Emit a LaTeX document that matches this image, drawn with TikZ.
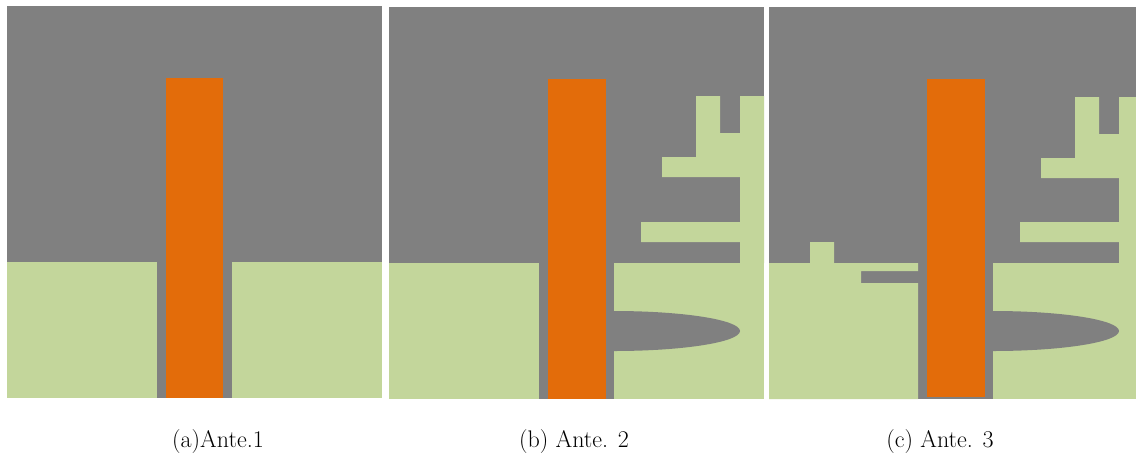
\documentclass[tikz,border=0pt]{standalone}
\definecolor{bg}{HTML}{808080}
\definecolor{soil}{HTML}{C3D69B}
\definecolor{pile}{HTML}{E36C0A}
\tikzset{
  lbl/.style={font=\fontsize{24}{28}\selectfont, inner sep=0pt},
}
\begin{document}
\begin{tikzpicture}[x=1pt,y=-1pt]
\useasboundingbox (0,0) rectangle (1136,464);
\fill[white] (0,0) rectangle (1136,464);
% ---------- panel (a)
\fill[bg] (7,6) rectangle (382,398);
\fill[soil] (7,262) rectangle (157,398);
\fill[soil] (232,262) rectangle (382,398);
\fill[pile] (166,78) rectangle (223,398);
% ---------- panel (b)
\fill[bg] (389,7) rectangle (764,399);
\fill[soil] (389,263) rectangle (539,399);
\fill[soil] (614,263) rectangle (764,399);
\begin{scope}
  \clip (614,300) rectangle (800,360);
  \fill[bg] (614,331) ellipse [x radius=126pt, y radius=20pt];
\end{scope}
\fill[soil] (696,96) -- (720,96) -- (720,133) -- (740,133) -- (740,96) -- (764,96)
  -- (764,263) -- (740,263) -- (740,242) -- (641,242) -- (641,222) -- (740,222)
  -- (740,177) -- (662,177) -- (662,157) -- (696,157) -- cycle;
\fill[pile] (548,79) rectangle (606,399);
% ---------- panel (c)
\fill[bg] (769,7) rectangle (1136,399);
\fill[soil] (769,263) -- (810,263) -- (810,242) -- (834,242) -- (834,263) -- (918,263)
  -- (918,271) -- (861,271) -- (861,283) -- (918,283) -- (918,399) -- (769,399) -- cycle;
\fill[soil] (993,263) rectangle (1136,399);
\begin{scope}
  \clip (993,300) rectangle (1136,360);
  \fill[bg] (993,331) ellipse [x radius=126pt, y radius=20pt];
\end{scope}
\fill[soil] (1075,97) -- (1099,97) -- (1099,134) -- (1119,134) -- (1119,97) -- (1136,97)
  -- (1136,263) -- (1119,263) -- (1119,242) -- (1020,242) -- (1020,222) -- (1119,222)
  -- (1119,178) -- (1041,178) -- (1041,158) -- (1075,158) -- cycle;
\fill[pile] (927,79) rectangle (985,397);
% ---------- labels
\node[lbl] (la) at (218,442) {(a)Ante.1};
\node[lbl] (lb) at (574,442) {(b) Ante. 2};
\node[lbl] (lc) at (940,442) {(c) Ante. 3};
\end{tikzpicture}
\end{document}
